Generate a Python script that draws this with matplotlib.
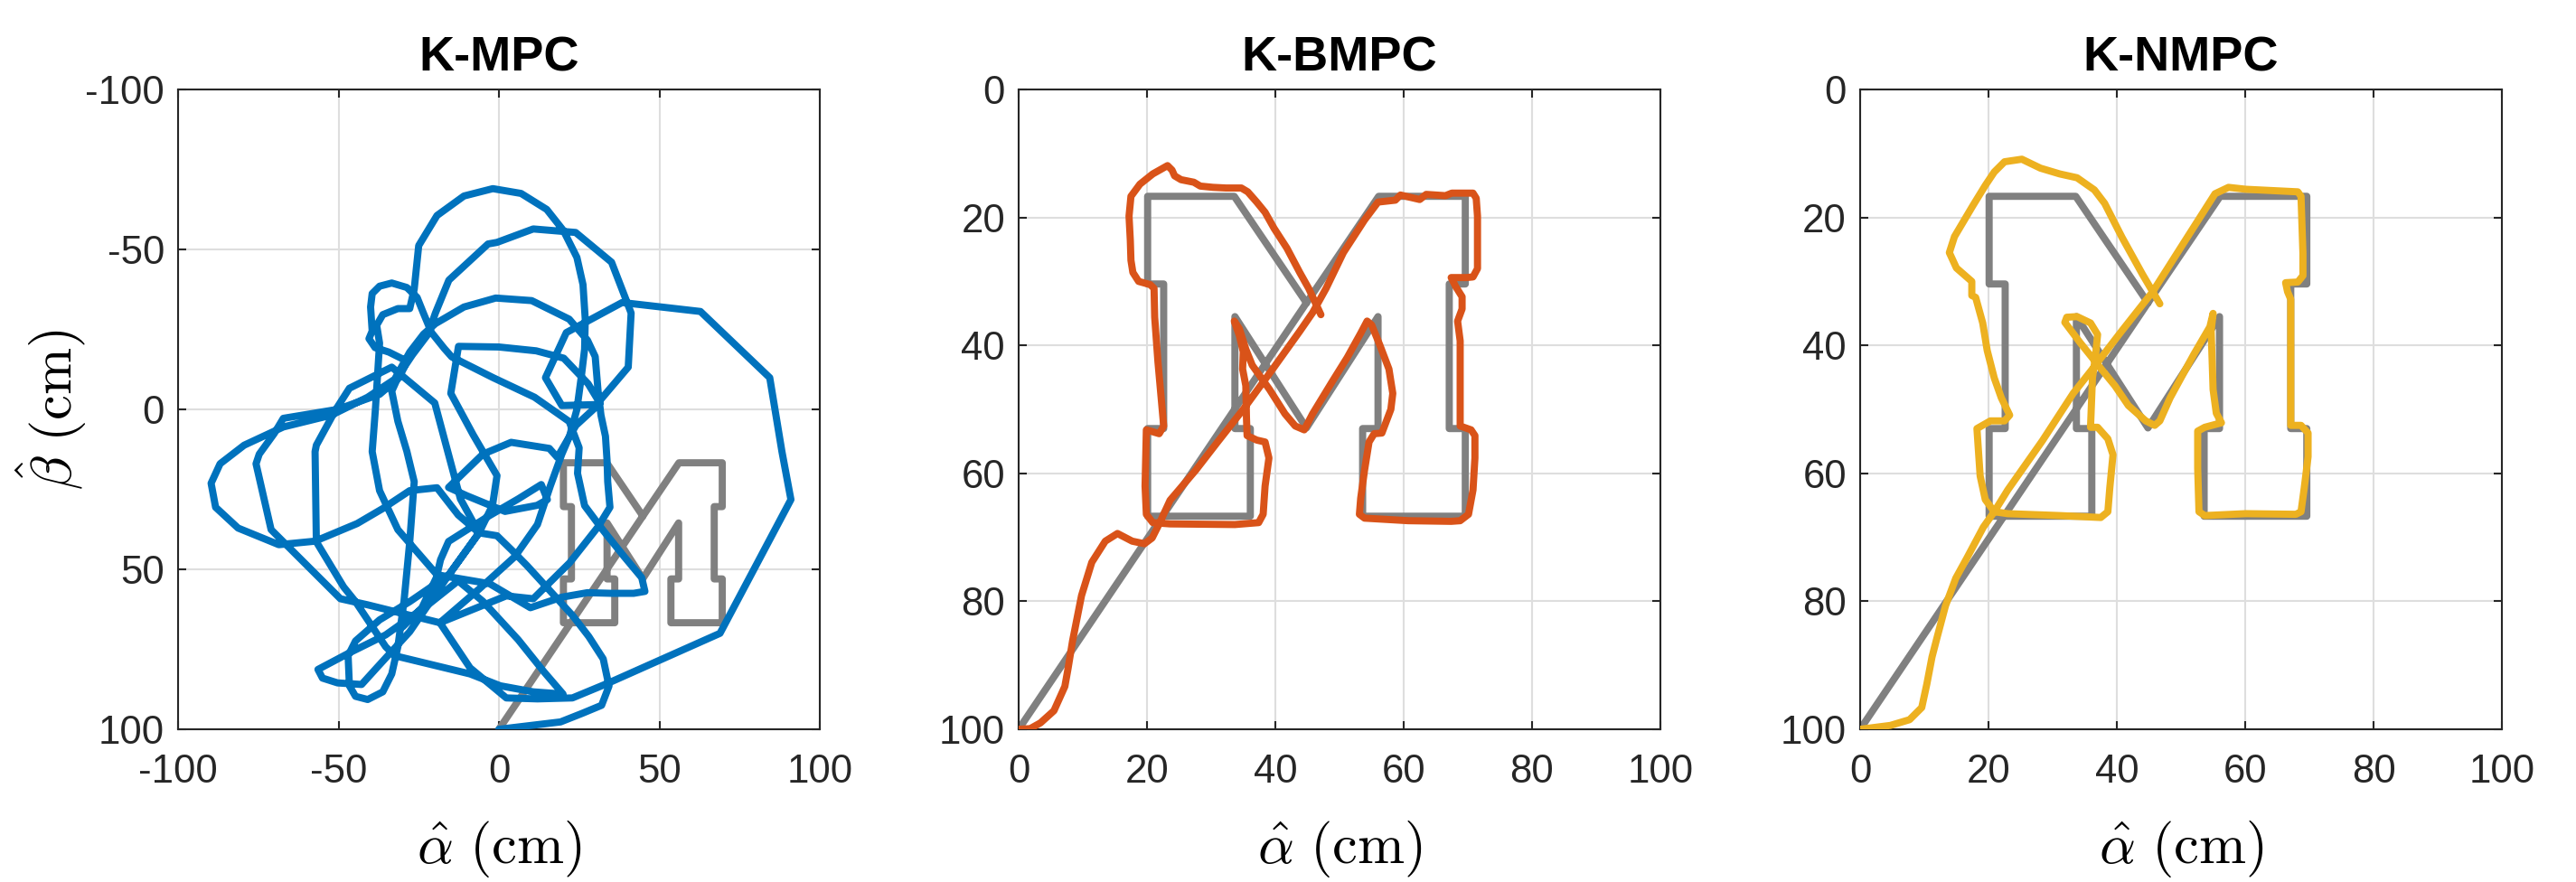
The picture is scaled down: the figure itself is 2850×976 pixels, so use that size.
import numpy as np
import matplotlib
matplotlib.use("Agg")
import matplotlib.pyplot as plt

plt.rcParams['font.family'] = ['Liberation Sans', 'DejaVu Sans']
plt.rcParams['mathtext.fontset'] = 'cm'
plt.rcParams['axes.unicode_minus'] = False

# reference "M" path (same in all three panels), alpha / beta in cm
m_alpha = [0, 44.85, 56.1, 69.6, 69.6, 67.1, 67.1, 69.6, 69.6, 53.6, 53.6, 56, 56, 44.85,
           33.7, 33.7, 36.1, 36.1, 20.1, 20.1, 22.6, 22.6, 20.1, 20.1, 33.6, 44.85]
m_beta = [100, 33.35, 16.7, 16.7, 30.4, 30.4, 53, 53, 66.7, 66.7, 53, 53, 35.5, 52.9,
          35.5, 53, 53, 66.7, 66.7, 53, 53, 30.4, 30.4, 16.7, 16.7, 33.35]

# K-MPC trajectory (read off the tangle, approximate)
mpc_path = [
    (0, 100), (11.6, 98.6), (19.2, 97.7), (26, 95), (32, 92.5), (34.3, 86.5), (32.5, 78), (28, 71),
    (23, 64.5), (18.2, 59.2), (13, 53.5), (8.8, 48.9), (4, 44), (-0.6, 39.5), (-6.2, 38.6),
    (-12.7, 33), (-19.3, 24.5),
    (-27.8, 25.4), (-36.2, 31), (-44.2, 35.7), (-57.3, 41.2), (-68.6, 42.3), (-81.3, 37.1),
    (-88.3, 30.6), (-89.7, 23.1), (-86.9, 17), (-79.4, 11.2), (-67.2, 5.5), (-52.2, 1.8), (-40.9, -3.8),
    (-32.5, -9.4), (-27.8, -17.9), (-23.5, -23.5), (-19.8, -26.8), (-10.9, -32), (-1, -34.8),
    (10.2, -34), (21.9, -28.2), (27.6, -21.6), (30, -16.5), (30.9, -5.7), (31.8, 1.8), (33.2, 8.4),
    (33.7, 16), (33.9, 22.6), (34.6, 30.6), (30.9, 36.7), (22, 48), (10.7, 59.2), (2.3, 58.3),
    (-18.4, 66.7), (-40.9, 61.1), (-49.4, 59.2), (-66.3, 42.3), (-71, 37.6), (-75.7, 17),
    (-74.7, 14), (-70, 7.5), (-67.2, 2.8), (-50.3, 0), (-37.2, -4.7),
    (-31, -10), (-28.7, -15.1), (-34.3, -17.9), (-38.6, -19.3), (-40.5, -22.1), (-39.5, -24.5),
    (-40, -32), (-39.5, -36.2), (-37.2, -38.5), (-33.4, -39.5), (-28.7, -38.1), (-25.5, -35),
    (-23.5, -30), (-21, -24), (-17, -19), (-14.7, -16.4),
    (-1.8, -9.9), (11.1, -3.8), (21.9, 3.8), (25, 12), (24.5, 20), (26.7, 30.1), (32.3, 37.6),
    (39, 46), (44.5, 52.6), (45.5, 56.9), (42, 57.5), (35, 57.5), (27.6, 57.3), (19.6, 58.7), (9.8, 62),
    (-2.9, 54.5), (-19.3, 51.7), (-31.5, 37.6), (-37.2, 25.4), (-39.5, 13.2), (-38.5, 0),
    (-37.2, -20.7), (-38.1, -26.3), (-36.2, -29.6), (-31.5, -31.5), (-27.8, -31.5),
    (-26.4, -37.6), (-25, -51.2), (-19.3, -60.6), (-10.9, -66.7), (-1.9, -69), (6.9, -67.5),
    (14.9, -62.5), (20.1, -55.9), (24.3, -47.5), (26.2, -39), (26.9, -28.2), (26.7, -18.8),
    (25.7, -10.4), (24.3, 0), (22, 8.4), (19.6, 14), (16, 24), (12, 36), (5, 46), (-6, 56),
    (-18.4, 66.7), (-9, 80.8), (2.3, 90.2), (12, 90.5), (22.9, 90.2),
    (34.2, 85.5), (68.9, 70), (91, 28.2), (88.2, 13.2), (84.4, -9.9), (62.8, -30.6), (38.4, -33.4),
    (21, -24), (14.5, -9.9), (19.6, -1.2), (30.4, -1.5),
    (40.3, -13.2), (41.2, -30.1), (39.8, -33.8), (35.1, -46), (23.9, -55.3), (10.7, -56.4),
    (-0.6, -52.2), (-3.4, -51.7), (-15.6, -40.4), (-19.8, -30.1), (-22.1, -23.5),
    (-27, -17), (-31, -11), (-33.4, -5.7), (-31.5, 3.7), (-28.7, 13.1), (-26.4, 22.6), (-27.8, 41.4),
    (-29.6, 60.1), (-31.5, 74.2), (-33.4, 82.7), (-36.2, 88.3), (-40.9, 90.7), (-44.7, 89.7),
    (-46.6, 86.4), (-47, 77), (-44.7, 72.4), (-37.2, 65.8), (-27.8, 60.1), (-15.6, 51.7), (-6.2, 38.6),
    (-12, 28), (-20, -2), (-33.4, -13.2), (-46.6, -6.6), (-50.8, 0), (-56.9, 11.2), (-57.3, 13.2),
    (-56.9, 41.4), (-48.4, 55.5), (-44.7, 60.1), (-35.3, 74.2), (-32.5, 77), (-9, 82.7), (0.4, 86.4),
    (10.7, 88.3), (20, 89),
    (14, 82), (6, 72), (-5, 60), (-12.7, 53.6), (-22.1, 61.1), (-35.3, 70.5), (-46.6, 76.1),
    (-56.4, 81.3), (-55, 84), (-50.3, 85.5), (-42.8, 86), (-38.1, 80.8), (-27.8, 69.5), (-15.6, 51.7),
    (-6.2, 38.6), (-2, 30), (-0.6, 20.7), (-8, 8), (-15, -5), (-12.6, -19.7), (0, -19.5),
    (11.6, -18.3), (20.2, -16), (27.8, -8), (31.5, -1.9),
    (24, 5), (18.2, 15), (15.7, 12.2), (3.8, 10.3), (-5, 14), (-15.7, 24.4), (-10, 27),
    (1.9, 31.9), (11.9, 30), (15.1, 28.2), (13.2, 23.5), (6, 28), (-3.1, 33.3), (-15.7, 41.3),
    (-18.2, 47), (-19.5, 52.6), (-24, 62), (-30, 68),
]

# K-BMPC trajectory
bmpc_path = [
    (0, 100), (1.8, 99.9), (3.4, 99), (5.5, 97.1), (7.2, 93.3), (7.7, 90.5), (8.4, 86.2), (9.8, 79.1),
    (11.4, 73.9), (13.5, 70.6), (15.4, 69.4), (17.7, 70.6), (19.6, 71), (20.8, 70.1), (21.9, 67.9),
    (23.6, 64.2), (27.6, 59.5), (31, 55.1), (35, 50), (39.8, 43.4), (43.8, 37.8), (45.8, 34.9),
    (47.9, 31.1), (50.6, 25.5), (53.9, 20.4), (56, 17.6), (58.7, 17.3), (59.5, 16.5), (62.5, 17.2),
    (63.5, 16.4), (66.5, 16.6), (67.5, 16.2), (70.8, 16.2), (71.3, 17),
    (71.5, 19.8), (71.5, 28), (70.8, 29.3), (69.8, 29.4), (67.4, 29.4), (68.1, 30.8), (69.1, 32.4),
    (69.1, 34.3), (68.4, 36.2), (68.8, 39.3), (68.8, 45), (68.8, 52.6), (70.5, 53.2), (71.1, 54.1),
    (71.1, 57.6), (70.8, 62.6), (70.1, 66.4), (68.8, 67.4), (67.4, 67.5), (60.7, 67.4), (53.9, 67),
    (53.1, 66.4), (53.3, 63.9), (53.9, 59.5), (54.6, 55.1), (55.4, 53.8), (56.6, 53.7), (58, 50),
    (58.3, 47.5), (57.7, 43.7), (56.3, 40), (55, 36.8), (54.3, 36.2), (53.3, 38.1), (51.2, 41.9),
    (48.9, 45.6), (45.8, 50.7), (44.5, 53.2), (43.1, 52.6), (41.5, 50.7), (39.1, 46.9), (36.4, 43.1),
    (35.4, 40.6), (34.4, 37.4), (33.6, 36.2), (34.4, 38.5), (35, 41), (34.9, 43.7), (35.4, 46.3),
    (35.5, 51.3), (35.6, 54.1), (37.1, 54.8), (38.4, 55.1), (39, 57.6), (38.4, 62), (38.1, 66.4),
    (37.4, 67.7), (33.7, 68), (23.6, 67.9), (20.9, 67.7), (19.9, 66.4), (19.7, 62), (19.9, 53.2),
    (21.9, 53.8), (22.6, 52.6), (22.2, 48.1), (21.7, 42.5), (21.2, 35.6), (21.1, 31.1), (20.5, 30.5),
    (18.7, 30), (17.8, 28.6), (17.5, 26.7), (17.4, 23.6), (17.2, 19.8), (17.5, 16.7), (18.9, 14.8),
    (20.9, 13.2), (23.2, 11.9), (23.9, 12.6), (24.3, 13.5), (25.3, 14.1), (27.3, 14.5), (28.3, 15.1),
    (30.3, 15.3), (32.3, 15.4), (34.7, 15.4), (35.7, 16), (37.1, 17.6), (38.4, 19.2), (39.8, 21.7),
    (41.8, 24.8), (43.8, 28.6), (45.2, 31.1), (47.1, 35.2),
]

# K-NMPC trajectory
nmpc_path = [
    (0, 100), (4.7, 99.4), (7.7, 98.5), (9.6, 96.6), (10.4, 92.9), (11.2, 88.7), (12, 85.6),
    (13.3, 80.7), (14.9, 76.4), (16.6, 73.3), (19.2, 68.4), (20.9, 66), (23, 62.6), (28.4, 54.9),
    (33.2, 47.5), (36.5, 43.3), (40.8, 37.7), (45.6, 31.6), (49.9, 24.8), (55.3, 16.3), (57.4, 15.3),
    (60.1, 15.6), (68.2, 16), (68.7, 16.7), (69, 25.6), (69, 29.1), (68.2, 30.1), (66.3, 30.2),
    (66.6, 31.6), (67.1, 32.8), (67.1, 52.5), (68.7, 52.5), (69.8, 53.7), (69.8, 57.4), (69.2, 62.3),
    (68.7, 66), (67.9, 66.4), (60.1, 66.3), (53.7, 66.6), (52.8, 66), (52.6, 59.2), (52.6, 53.4),
    (53.7, 52.8), (56.3, 52.1), (55.5, 50.6), (55, 46.9), (54.7, 37.7), (55, 35), (54.5, 37.1),
    (52, 41.4), (48.3, 48.2), (46.7, 51.8), (45.9, 52.5), (44.5, 51.8), (41.8, 49.4), (39.7, 46.3),
    (37.5, 43.6), (34.3, 39.6), (31.9, 36.4), (32.2, 35.6), (33.8, 35.5), (35.9, 36.5), (37, 38.3),
    (36.7, 41.4), (36.2, 45.1), (35.9, 52.8), (37, 52.8), (38.6, 54.6), (39.4, 57.1), (38.9, 62.3),
    (38.6, 66), (37.5, 66.9), (31.1, 66.6), (23, 66.3), (20.9, 66), (19.5, 64.1), (18.7, 60.4),
    (18.2, 53), (20.3, 51.8), (22.5, 51.8), (23.3, 50.9), (22, 48.2), (20.9, 45.1), (19.8, 40.8),
    (19.1, 36.5), (18, 32.5), (17.4, 32.2), (17.4, 30), (15, 27.9), (13.9, 25.5), (14.7, 23),
    (17.6, 18.1), (19.5, 15), (20.9, 12.9), (22.5, 11.3), (25.2, 10.9), (28.1, 12.3), (31.1, 13.2),
    (33.8, 13.8), (36.5, 15.7), (38.1, 17.8), (40.8, 23.1), (44, 28.9), (46.7, 33.5),
]

titles = ["K-MPC", "K-BMPC", "K-NMPC"]
line_colors = ["#0072BD", "#D95319", "#EDB120"]
wide_ticks = [-100, -50, 0, 50, 100]
narrow_ticks = [0, 20, 40, 60, 80, 100]

fig = plt.figure(figsize=(9.5, 976 / 300), dpi=300)

# axes boxes in figure pixels (left edges) -> fractions
lefts = [197, 1127, 2058]
ax_w, ax_h, ax_b = 710 / 2850, 708 / 976, 169 / 976

paths = [mpc_path, bmpc_path, nmpc_path]
for i in range(3):
    ax = fig.add_axes([lefts[i] / 2850, ax_b, ax_w, ax_h])
    ax.plot(m_alpha, m_beta, color="#808080", lw=1.9, solid_joinstyle="round",
            solid_capstyle="round", zorder=2)
    p = np.array(paths[i])
    ax.plot(p[:, 0], p[:, 1], color=line_colors[i], lw=1.9, solid_joinstyle="round",
            solid_capstyle="round", zorder=3)

    if i == 0:
        ax.set_xlim(-100, 100)
        ax.set_ylim(100, -100)
        ax.set_xticks(wide_ticks)
        ax.set_yticks(wide_ticks)
        ax.set_ylabel(r"$\hat{\beta}\ (\mathrm{cm})$", fontsize=15)
        ax.yaxis.set_label_coords(-0.14, 0.5)
    else:
        ax.set_xlim(0, 100)
        ax.set_ylim(100, 0)
        ax.set_xticks(narrow_ticks)
        ax.set_yticks(narrow_ticks)

    ax.set_xlabel(r"$\hat{\alpha}\ (\mathrm{cm})$", fontsize=15, va="top")
    ax.xaxis.set_label_coords(0.5, -0.14)

    ax.grid(True, color="#dedede", lw=0.5)
    ax.set_axisbelow(True)
    ax.tick_params(direction="in", top=True, right=True, length=2.1, width=0.5,
                   colors="#262626", labelsize=10.5)
    ax.tick_params(axis="x", pad=6.5)
    ax.tick_params(axis="y", pad=3.6)
    for s in ax.spines.values():
        s.set_linewidth(0.5)
        s.set_color("#262626")
    ax.set_title(titles[i], fontsize=13, fontweight="bold", pad=5)

fig.savefig("out.png", dpi=300)
